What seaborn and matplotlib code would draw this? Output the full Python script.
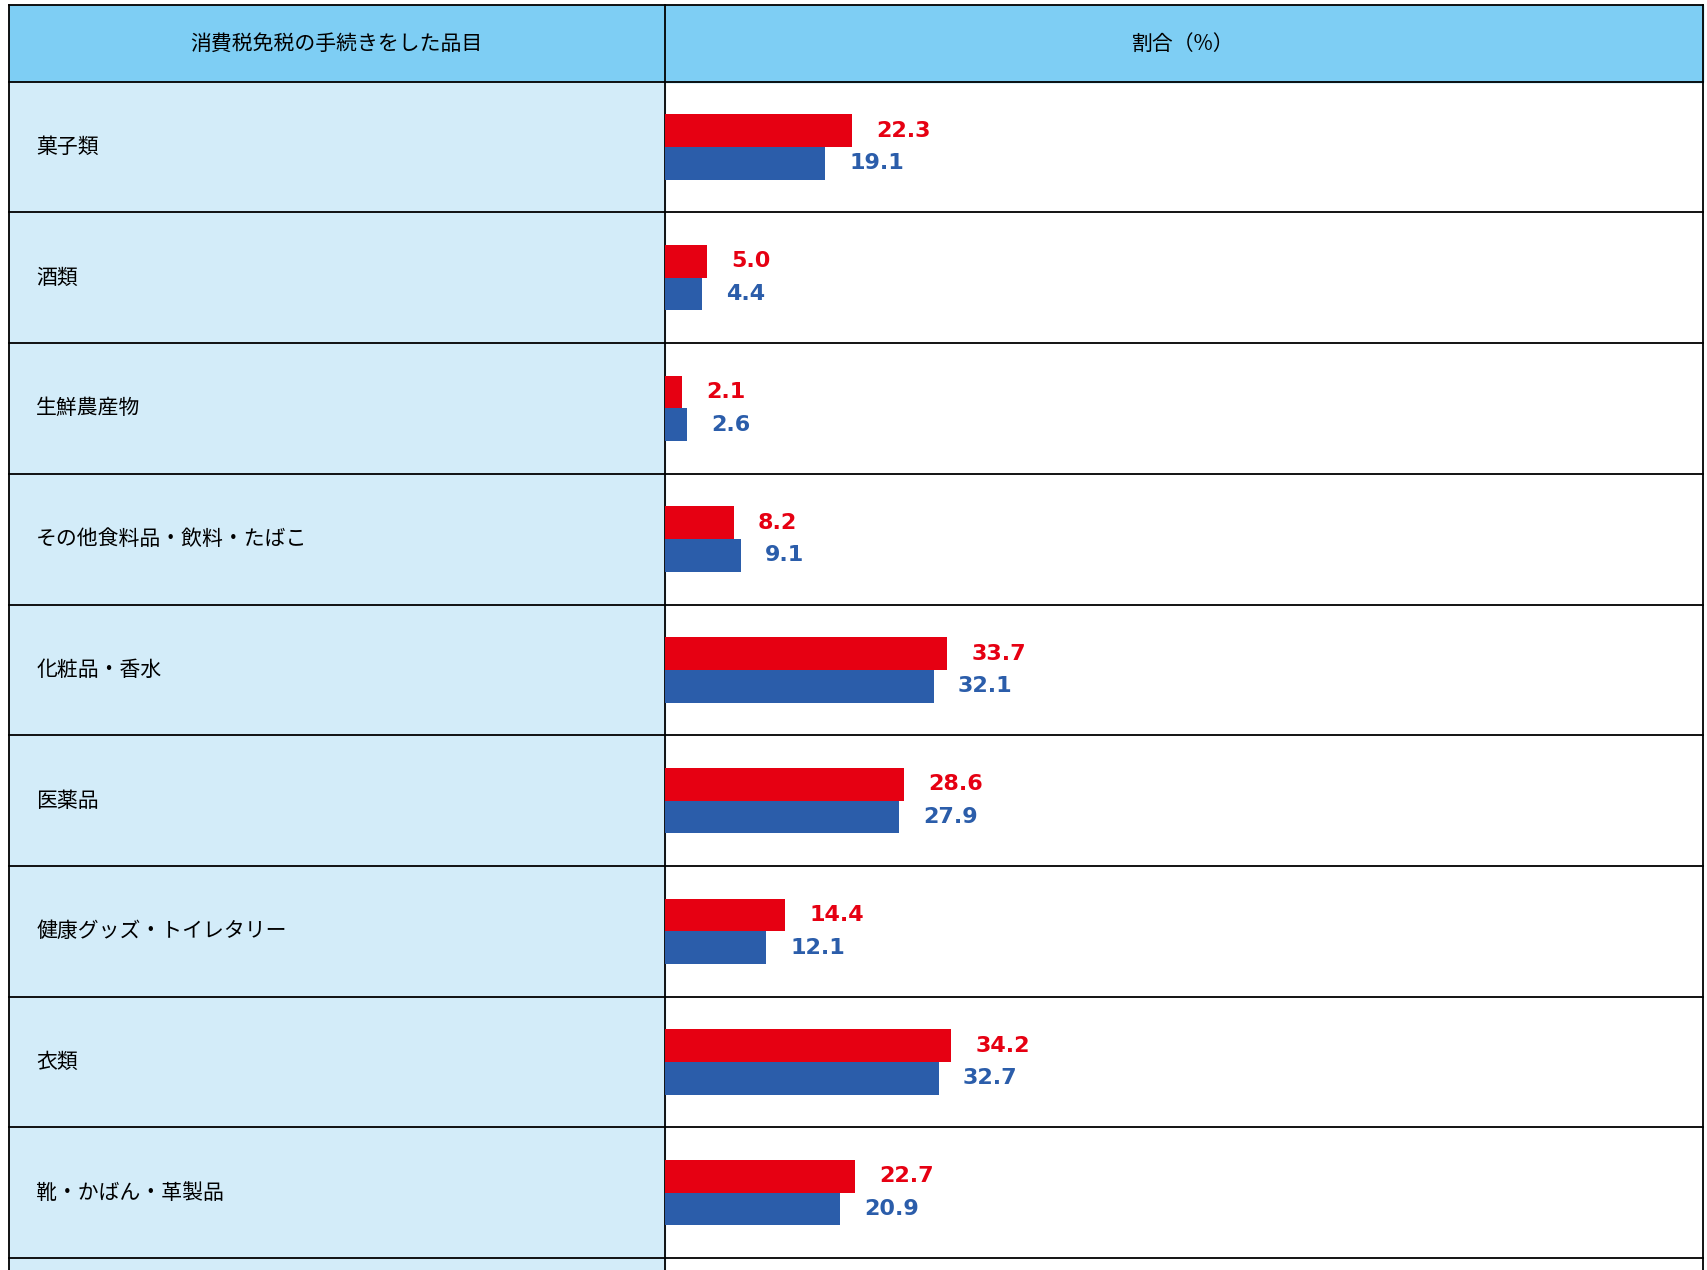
import pandas as pd
import matplotlib.pyplot as plt
import seaborn as sns

plt.rcParams['font.family'] = 'Noto Sans CJK JP'

# data
categories = ['菓子類', '酒類', '生鮮農産物', 'その他食料品・飲料・たばこ', '化粧品・香水',
              '医薬品', '健康グッズ・トイレタリー', '衣類', '靴・かばん・革製品']
red_values = [22.3, 5.0, 2.1, 8.2, 33.7, 28.6, 14.4, 34.2, 22.7]
blue_values = [19.1, 4.4, 2.6, 9.1, 32.1, 27.9, 12.1, 32.7, 20.9]
series_names = ['A', 'B']
header_left = '消費税免税の手続きをした品目'
header_right = '割合（%）'

RED = '#E60012'
BLUE = '#2B5DAA'

df = pd.DataFrame({
    'cat': categories * 2,
    'val': red_values + blue_values,
    'series': [series_names[0]] * len(categories) + [series_names[1]] * len(categories),
})

W, H = 1562, 1166
fig = plt.figure(figsize=(17.08, 12.70), dpi=100)

# background table in pixel coords of the reference
bg = fig.add_axes([0, 0, 1, 1])
bg.set_xlim(0, W)
bg.set_ylim(H, 0)
bg.axis('off')
x0, xm, x1 = 8, 608, 1557
top, head_bot, row_h = 5, 75, 120
bg.add_patch(plt.Rectangle((x0, top), xm - x0, head_bot - top, color='#7ECEF4', zorder=0))
bg.add_patch(plt.Rectangle((xm, top), x1 - xm, head_bot - top, color='#7ECEF4', zorder=0))
bg.add_patch(plt.Rectangle((x0, head_bot), xm - x0, H - head_bot, color='#D3ECF9', zorder=0))
bg.text((x0 + xm) / 2, 40, header_left, ha='center', va='center', fontsize=15)
bg.text((xm + x1) / 2, 40, header_right, ha='center', va='center', fontsize=15)
for i in range(len(categories) + 1):
    y = head_bot + i * row_h
    bg.plot([x0, x1], [y, y], color='black', lw=1.3)
    if i < len(categories):
        bg.text(33, y + row_h / 2, categories[i], ha='left', va='center', fontsize=15)
bg.plot([x0, x1], [top, top], color='black', lw=1.3)
for x in (x0, xm, x1):
    bg.plot([x, x], [top, H], color='black', lw=1.3)

# bar axes over the right column
ax = fig.add_axes([xm / W, 0, (x1 - xm) / W, 1 - head_bot / H])
ax.patch.set_alpha(0)
sns.barplot(data=df, y='cat', x='val', hue='series', orient='h',
            palette=[RED, BLUE], width=0.5, saturation=1, legend=False, ax=ax)
scale = 262 / 34.2
ax.set_xlim(0, (x1 - xm) / scale)
ax.set_ylim(8.5 + 11 / 120, -0.5)
ax.axis('off')
for i in range(len(categories)):
    ax.text(red_values[i] + 2.9, i - 0.125, f'{red_values[i]:.1f}', color=RED,
            fontsize=16, fontweight='bold', va='center', family='DejaVu Sans')
    ax.text(blue_values[i] + 2.9, i + 0.125, f'{blue_values[i]:.1f}', color=BLUE,
            fontsize=16, fontweight='bold', va='center', family='DejaVu Sans')

fig.savefig('out.png', dpi=100)
